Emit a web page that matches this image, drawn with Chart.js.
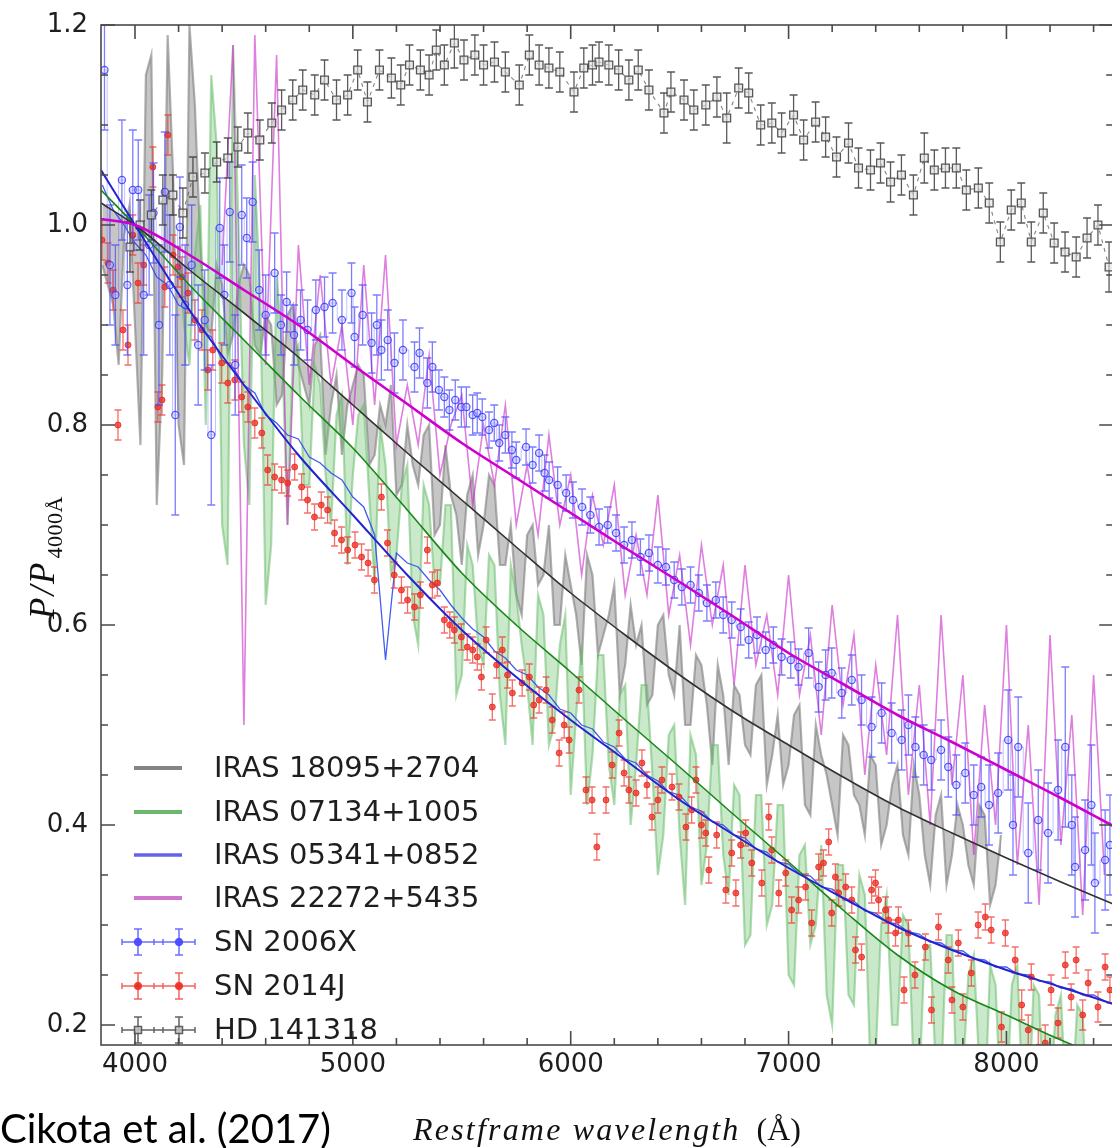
<!DOCTYPE html>
<html><head><meta charset="utf-8">
<script src="https://cdn.jsdelivr.net/npm/chart.js@4.4.1/dist/chart.umd.min.js"></script>
<style>html,body{margin:0;padding:0;background:#fff;overflow:hidden;}#wrap{width:1120px;height:1148px;}</style>
</head><body><div id="wrap"><canvas id="c" width="1120" height="1148"></canvas></div>
<script>
// ---------- tick labels ----------
const xMajorTicks = [4000, 5000, 6000, 7000, 8000];
const xMinorTicks = [4200, 4400, 4600, 4800, 5200, 5400, 5600, 5800, 6200, 6400, 6600, 6800, 7200, 7400, 7600, 7800, 8200, 8400];
const yMajorTicks = [0.2, 0.4, 0.6, 0.8, 1.0, 1.2];
const yMinorTicks = [0.25, 0.3, 0.35, 0.45, 0.5, 0.55, 0.65, 0.7, 0.75, 0.85, 0.9, 0.95, 1.05, 1.1, 1.15];

const legendLabels = ['IRAS 18095+2704', 'IRAS 07134+1005', 'IRAS 05341+0852', 'IRAS 22272+5435', 'SN 2006X', 'SN 2014J', 'HD 141318'];
const xTitleItalic = 'Restframe wavelength';
const xTitleUnit = '(\u00C5)';
const yTitleMain = 'P/P';
const yTitleSub = '4000\u00C5';
const creditText = 'Cikota et al. (2017)';

// ---------- spectra (wavelength grid) ----------
const specWave = [3850,3900,3950,4000,4050,4100,4150,4200,4250,4300,4350,4400,4450,4500,4550,4600,4650,4700,4750,4800,4850,4900,4950,5000,5050,5100,5150,5200,5250,5300,5350,5400,5450,5500,5550,5600,5650,5700,5750,5800,5850,5900,5950,6000,6050,6100,6150,6200,6250,6300,6350,6400,6450,6500,6550,6600,6650,6700,6750,6800,6850,6900,6950,7000,7050,7100,7150,7200,7250,7300,7350,7400,7450,7500,7550,7600,7650,7700,7750,7800,7850,7900,7950,8000,8050,8100,8150,8200,8250,8300,8350,8400,8450];

const graySpec = [.96,.92,.99,.90,1.15,.72,1.19,.80,1.20,
 .98,.89,.94,.89,.96,.88,.91,.82,.91,.86,
 .82,.89,.82,.77,.84,.85,.77,.80,.73,.80,
 .74,.80,.70,.73,.66,.75,.70,.74,.66,.63,
 .69,.64,.70,.60,.64,.56,.65,.59,.64,.56,
 .58,.52,.60,.55,.60,.50,.56,.46,.53,.54,
 .48,.54,.44,.51,.46,.52,.41,.47,.42,.49,
 .43,.39,.46,.40,.46,.37,.43,.34,.43,.37,
 .40,.34,.41,.34,
 null,null,null,null,null,null,null,null,null,null];

// in-between samples of the same gray spectrum
const grayOddWave = [3875,3925,3975,4025,4075,4125,4175,4225,4275,4325,4375,4425,4475,4525,4575,4625,4675,4725,4775,4825,4875,4925,4975,5025,5075,5125,5175,5225,5275,5325,5375,5425,5475,5525,5575,5625,5675,5725,5775,5825,5875,5925,5975,6025,6075,6125,6175,6225,6275,6325,6375,6425,6475,6525,6575,6625,6675,6725,6775,6825,6875,6925,6975,7025,7075,7125,7175,7225,7275,7325,7375,7425,7475,7525,7575,7625,7675,7725,7775,7825,7875,7925,7975];
const grayOddSpec = [.94,.86,1.02,.78,1.17,.85,1.05,.76,1.12,
 .90,.96,.87,.94,.95,.87,.90,.83,.92,.84,
 .88,.77,.85,.82,.86,.76,.82,.84,.74,.76,
 .79,.69,.78,.71,.73,.67,.75,.66,.70,.61,
 .70,.65,.60,.67,.61,.67,.57,.61,.53,.62,
 .60,.53,.61,.53,.50,.57,.52,.56,.46,.53,
 .47,.55,.47,.44,.51,.42,.50,.45,.39,.48,
 .42,.47,.38,.44,.39,.46,.37,.41,.34,.42,
 .36,.42,.32,.39];

const greenSpec = [null,null,null,null,null,null,null,
 .98,.86,1.02,1.15,.70,1.18,.78,1.05,.62,.95,
 .70,.88,.74,.84,.70,.83,.75,.82,.64,.76,
 .67,.76,.58,.72,.64,.72,.55,.66,.56,.66,
 .48,.63,.54,.63,.48,.58,.43,.58,.47,.57,
 .42,.54,.46,.54,.35,.49,.39,.49,.34,.48,
 .37,.44,.28,.43,.30,.42,.25,.37,.28,.38,
 .20,.36,.22,.33,.17,.33,.20,.30,.14,.28,
 .14,.29,.15,.27,.11,.24,.12,.26,.10,.23,
 .12,.23,.12,.21,null,null];

// in-between samples of the same green spectrum
const greenOddWave = [4225,4275,4325,4375,4425,4475,4525,4575,4625,4675,4725,4775,4825,4875,4925,4975,5025,5075,5125,5175,5225,5275,5325,5375,5425,5475,5525,5575,5625,5675,5725,5775,5825,5875,5925,5975,6025,6075,6125,6175,6225,6275,6325,6375,6425,6475,6525,6575,6625,6675,6725,6775,6825,6875,6925,6975,7025,7075,7125,7175,7225,7275,7325,7375,7425,7475,7525,7575,7625,7675,7725,7775,7825,7875,7925,7975,8025,8075,8125,8175,8225,8275,8325,8375];
const greenOddSpec = [.90,.97,.80,1.08,.66,1.0,.72,.93,.68,.88,
 .87,.74,.86,.75,.81,.66,.81,.73,.80,.65,
 .74,.61,.74,.64,.72,.53,.68,.58,.67,.53,
 .66,.58,.48,.61,.50,.61,.51,.42,.57,.46,
 .53,.40,.54,.45,.39,.50,.32,.47,.38,.48,
 .33,.43,.29,.43,.32,.42,.24,.38,.30,.23,
 .36,.23,.35,.16,.30,.20,.31,.15,.28,.16,
 .29,.11,.25,.16,.26,.11,.24,.12,.24,.08,
 .21,.11,.22,.09];

const magentaSpec = [null,null,null,null,null,null,null,null,null,null,null,
 .96,1.18,.50,1.19,.86,1.17,
 .70,.98,.84,.95,.84,.90,.80,.96,.82,.97,
 .78,.84,.78,.87,.75,.80,.83,.72,.80,.74,
 .82,.70,.76,.69,.79,.70,.75,.65,.73,.68,
 .74,.63,.69,.63,.73,.61,.67,.58,.68,.60,
 .66,.54,.66,.56,.61,.53,.65,.53,.59,.49,
 .62,.52,.59,.45,.56,.47,.61,.43,.54,.40,
 .61,.44,.55,.37,.52,.40,.60,.36,.50,.32,
 .59,.38,.51,.31,.55,.35];

const blueSpec = [1.04,1.015,1.00,.982,.97,.948,.94,.92,.915,.895,
 .888,.865,.858,.84,.832,.81,.802,.79,.786,.768,
 .762,.752,.745,.728,.718,.69,.565,.672,.662,.658,
 .645,.635,.62,.607,.596,.588,.574,.567,.555,.55,
 .538,.53,.516,.512,.50,.496,.483,.478,.466,.462,
 .45,.444,.433,.43,.418,.414,.403,.40,.39,.387,
 .376,.373,.363,.361,.351,.349,.338,.336,.327,.324,
 .314,.312,.303,.301,.293,.291,.283,.282,.275,.274,
 .266,.265,.258,.258,.251,.25,.244,.243,.237,.236,
 .23,.23,.224];

// ---------- fitted curves ----------
const fitWave = [3844,4000,4250,4500,4750,5000,5250,5500,5750,6000,6250,6500,6750,7000,7250,7500,7750,8000,8250,8490];
const grayFit    = [1.022,1.0,.955,.912,.868,.82,.772,.725,.678,.632,.59,.55,.513,.48,.448,.418,.392,.367,.343,.321];
const greenFit   = [1.035,1.0,.94,.885,.83,.777,.715,.652,.6,.553,.505,.458,.41,.363,.315,.27,.235,.21,.185,.164];
const blueFit    = [1.055,1.0,.915,.84,.77,.71,.65,.595,.548,.505,.465,.425,.39,.357,.327,.298,.275,.255,.238,.221];
const magentaFit = [1.006,1.0,.97,.935,.9,.86,.821,.782,.747,.712,.677,.643,.608,.572,.541,.51,.483,.455,.427,.399];

// ---------- SN 2006X ----------
const sn06Wave = [3860,3885,3910,3940,3965,3990,4015,4040,4065,4085,
 4110,4137,4160,4185,4206,4230,4260,4290,4320,4350,
 4389,4410,4435,4460,4490,4513,4540,4570,4600,4641,
 4670,4696,4730,4760,4792,4830,4870,4907,4950,4994,
 5008,5045,5086,5110,5131,5160,5191,5230,5283,5306,
 5342,5365,5395,5420,5443,5470,5498,5521,5550,5571,
 5594,5625,5649,5672,5700,5730,5750,5795,5825,5855,
 5880,5901,5940,5979,6010,6052,6090,6130,6170,6208,
 6245,6281,6320,6359,6400,6437,6475,6510,6550,6588,
 6625,6666,6700,6739,6780,6817,6855,6895,6930,6968,
 7010,7046,7092,7138,7170,7198,7244,7290,7335,7381,
 7427,7473,7519,7550,7582,7620,7655,7700,7733,7770,
 7811,7850,7884,7920,7962,8008,8030,8054,8100,8146,
 8191,8237,8270,8300,8315,8361,8390,8406,8453,8475];
const sn06Val = [1.155,.96,.93,1.045,.94,1.035,1.035,.93,.98,1.012,
 .90,1.033,.94,.81,.998,.92,.96,.88,.905,.79,
 .997,.93,1.013,.86,1.01,.987,1.023,.935,.91,.952,
 .90,.923,.89,.905,.895,.915,.918,.922,.905,.932,
 .888,.91,.882,.90,.875,.885,.862,.875,.858,.872,
 .842,.858,.835,.828,.815,.825,.818,.818,.81,.812,
 .808,.795,.802,.782,.79,.775,.765,.778,.76,.772,
 .752,.745,.74,.732,.725,.718,.71,.698,.70,.692,
 .68,.685,.668,.672,.66,.658,.645,.638,.64,.632,
 .622,.625,.61,.605,.598,.585,.59,.575,.58,.568,
 .565,.558,.572,.538,.55,.552,.532,.545,.525,.498,
 .512,.492,.485,.50,.478,.47,.465,.475,.458,.44,
 .452,.43,.438,.42,.432,.485,.40,.478,.372,.405,
 .392,.435,.478,.40,.358,.375,.42,.342,.365,.38];
const sn06Err = [.06,.06,.05,.06,.07,.06,.05,.06,.05,.05,
 .08,.06,.07,.10,.05,.06,.06,.06,.05,.07,
 .05,.05,.05,.05,.05,.04,.04,.04,.04,.04,
 .03,.03,.03,.03,.03,.03,.03,.03,.03,.03,
 .03,.03,.03,.03,.03,.03,.03,.03,.025,.025,
 .025,.025,.02,.02,.02,.02,.02,.02,.02,.02,
 .018,.018,.018,.018,.018,.018,.018,.018,.018,.018,
 .018,.018,.018,.018,.018,.018,.018,.018,.018,.018,
 .018,.018,.018,.018,.018,.018,.018,.018,.018,.018,
 .018,.018,.018,.018,.018,.018,.018,.018,.018,.018,
 .018,.018,.025,.025,.025,.025,.025,.025,.025,.03,
 .03,.03,.03,.03,.03,.03,.03,.03,.03,.03,
 .03,.03,.03,.04,.04,.05,.05,.05,.05,.05,
 .05,.05,.08,.05,.05,.05,.06,.05,.05,.05];

// ---------- SN 2014J ----------
const sn14Wave = [3849,3876,3900,3922,3945,3968,3990,4014,4040,4082,
 4105,4124,4137,4151,4175,4197,4215,4243,4275,4307,
 4334,4357,4398,4426,4458,4490,4518,4550,4582,4609,
 4641,4673,4701,4733,4765,4792,4824,4855,4884,4916,
 4948,4976,5010,5040,5070,5099,5131,5159,5190,5223,
 5251,5283,5310,5342,5365,5388,5420,5445,5466,5498,
 5525,5550,5571,5590,5612,5640,5660,5686,5710,5732,
 5777,5810,5830,5855,5887,5915,5947,5970,5993,6038,
 6070,6098,6120,6162,6190,6222,6245,6267,6300,6327,
 6350,6373,6400,6419,6465,6497,6529,6555,6575,6600,
 6620,6634,6670,6712,6739,6758,6780,6803,6831,6877,
 6909,6923,6955,6987,7014,7046,7078,7106,7138,7160,
 7184,7198,7215,7230,7262,7290,7307,7335,7381,7399,
 7413,7445,7459,7491,7504,7530,7550,7580,7628,7656,
 7688,7733,7750,7779,7800,7839,7870,7903,7930,7977,
 7995,8040,8070,8100,8114,8146,8178,8205,8237,8270,
 8297,8320,8350,8375,8420,8453,8475];
const sn14Val = [.985,.962,.935,.80,.895,.88,.99,.942,.96,1.058,
 .818,.825,.938,1.09,.97,.958,.948,.932,.905,.895,
 .855,.875,.862,.842,.845,.828,.818,.802,.792,.755,
 .748,.745,.742,.758,.738,.725,.708,.72,.715,.692,
 .685,.675,.68,.668,.662,.645,.728,.682,.65,.635,
 .625,.618,.63,.675,.64,.642,.605,.60,.595,.588,
 .578,.575,.568,.548,.585,.518,.56,.575,.55,.532,
 .542,.548,.52,.525,.535,.505,.472,.50,.485,.535,
 .435,.425,.378,.425,.46,.492,.452,.435,.432,.462,
 .44,.408,.425,.445,.438,.428,.398,.415,.445,.40,
 .392,.355,.39,.335,.372,.332,.38,.392,.362,.342,
 .408,.375,.332,.352,.315,.325,.338,.302,.358,.362,
 .383,.312,.348,.332,.338,.325,.275,.268,.335,.342,
 .325,.315,.305,.292,.305,.235,.292,.25,.278,.215,
 .298,.265,.225,.282,.218,.252,.30,.308,.295,.198,
 .292,.265,.22,.195,.248,.178,.182,.235,.202,.26,
 .228,.265,.21,.242,.218,.258,.235];
const sn14Err = [.02,.02,.02,.015,.02,.02,.02,.02,.02,.02,
 .015,.015,.02,.02,.02,.02,.02,.02,.02,.02,
 .02,.02,.02,.02,.02,.015,.015,.015,.015,.015,
 .013,.013,.013,.013,.013,.013,.013,.013,.013,.013,
 .013,.013,.013,.013,.013,.013,.013,.013,.013,.013,
 .013,.013,.013,.013,.013,.013,.013,.013,.013,.013,
 .013,.013,.013,.013,.013,.013,.013,.013,.013,.013,
 .013,.013,.013,.013,.013,.013,.013,.013,.013,.013,
 .013,.013,.013,.013,.013,.013,.013,.013,.013,.013,
 .013,.013,.013,.013,.013,.013,.013,.013,.013,.013,
 .013,.013,.013,.013,.013,.013,.013,.013,.013,.013,
 .013,.013,.013,.013,.013,.013,.013,.013,.013,.013,
 .013,.013,.013,.013,.013,.013,.013,.013,.013,.013,
 .013,.013,.013,.013,.013,.013,.013,.013,.013,.013,
 .013,.013,.013,.013,.013,.013,.013,.013,.013,.015,
 .013,.013,.015,.015,.013,.018,.018,.015,.015,.013,
 .013,.013,.015,.013,.015,.013,.013];

// ---------- HD 141318 ----------
const hdWave = [3977,4023,4075,4128,4174,4220,4266,4321,4375,4426,
 4472,4518,4573,4628,4673,4724,4770,4825,4870,4925,
 4976,5022,5067,5122,5177,5220,5260,5310,5350,5383,
 5420,5466,5510,5560,5600,5650,5700,5764,5810,5855,
 5900,5950,6015,6060,6100,6130,6175,6220,6267,6310,
 6359,6428,6460,6520,6565,6620,6671,6716,6771,6817,
 6872,6923,6968,7023,7069,7124,7170,7220,7275,7321,
 7376,7422,7468,7518,7573,7623,7669,7720,7770,7816,
 7871,7921,7972,8022,8068,8114,8169,8219,8269,8320,
 8370,8420,8471];
const hdVal = [.978,1.0,1.01,1.025,1.03,1.012,1.048,1.052,1.063,1.067,
 1.078,1.092,1.085,1.102,1.115,1.125,1.135,1.13,1.145,1.125,
 1.13,1.155,1.123,1.155,1.147,1.14,1.16,1.155,1.15,1.175,
 1.16,1.182,1.165,1.17,1.16,1.163,1.153,1.14,1.17,1.16,
 1.157,1.153,1.133,1.157,1.16,1.163,1.16,1.155,1.145,1.155,
 1.135,1.112,1.133,1.125,1.115,1.12,1.128,1.107,1.137,1.132,
 1.10,1.102,1.092,1.11,1.085,1.103,1.088,1.068,1.082,1.057,
 1.055,1.062,1.043,1.05,1.03,1.067,1.055,1.057,1.057,1.035,
 1.037,1.022,.983,1.015,1.022,.983,1.012,.982,.973,.968,
 .987,1.0,.958];
const hdErr = [.025,.025,.025,.025,.02,.025,.02,.02,.02,.02,
 .02,.02,.02,.02,.02,.02,.02,.02,.02,.02,
 .02,.02,.02,.02,.02,.02,.02,.02,.02,.02,
 .02,.025,.02,.02,.02,.02,.02,.02,.02,.02,
 .02,.02,.02,.02,.02,.02,.02,.02,.02,.02,
 .02,.02,.02,.02,.02,.02,.02,.025,.02,.02,
 .02,.02,.02,.02,.02,.02,.02,.02,.02,.02,
 .02,.02,.02,.02,.02,.025,.02,.02,.02,.02,
 .02,.02,.02,.02,.02,.02,.02,.02,.02,.02,
 .02,.02,.025];

// ---------- helpers ----------
const toXY = (xs, ys) => xs.map((x, i) => ({ x: x, y: ys[i] }));
const mergeXY = (xa, ya, xb, yb) => toXY(xa, ya).concat(toXY(xb, yb))
  .filter(p => p.y !== null).sort((p, q) => p.x - q.x);

const errorBarPlugin = {
  id: 'errbars',
  beforeDatasetDraw(chart, args) {
    const ds = chart.data.datasets[args.index];
    if (!ds.errors) return;
    const ctx = chart.ctx, a = chart.chartArea, xs = chart.scales.x, ys = chart.scales.y;
    ctx.save();
    ctx.beginPath(); ctx.rect(a.left, a.top, a.right - a.left, a.bottom - a.top); ctx.clip();
    ctx.strokeStyle = ds.errColor; ctx.lineWidth = ds.errWidth;
    ctx.beginPath();
    ds.data.forEach((p, i) => {
      const e = ds.errors[i];
      const px = xs.getPixelForValue(p.x);
      const y1 = ys.getPixelForValue(p.y - e), y2 = ys.getPixelForValue(p.y + e);
      const c = ds.capHalf;
      ctx.moveTo(px, y1); ctx.lineTo(px, y2);
      ctx.moveTo(px - c, y1); ctx.lineTo(px + c, y1);
      ctx.moveTo(px - c, y2); ctx.lineTo(px + c, y2);
    });
    ctx.stroke();
    ctx.restore();
  }
};

const framePlugin = {
  id: 'frame',
  afterDatasetsDraw(chart) {
    const ctx = chart.ctx, a = chart.chartArea, xs = chart.scales.x, ys = chart.scales.y;
    ctx.save();
    ctx.strokeStyle = '#4a4a4a'; ctx.lineWidth = 1.6;
    ctx.strokeRect(a.left, a.top, a.right - a.left, a.bottom - a.top);
    ctx.beginPath();
    const vt = (v, len) => { const px = xs.getPixelForValue(v);
      ctx.moveTo(px, a.bottom); ctx.lineTo(px, a.bottom - len);
      ctx.moveTo(px, a.top); ctx.lineTo(px, a.top + len); };
    const ht = (v, len) => { const py = ys.getPixelForValue(v);
      ctx.moveTo(a.left, py); ctx.lineTo(a.left + len, py);
      ctx.moveTo(a.right, py); ctx.lineTo(a.right - len, py); };
    xMajorTicks.forEach(v => vt(v, 14));
    xMinorTicks.forEach(v => vt(v, 7));
    yMajorTicks.forEach(v => ht(v, 14));
    yMinorTicks.forEach(v => ht(v, 7));
    ctx.stroke();
    ctx.restore();
  }
};

const legendStyles = [
  { kind: 'line', color: 'rgba(110,110,110,0.85)', width: 4 },
  { kind: 'line', color: 'rgba(70,165,70,0.8)', width: 4 },
  { kind: 'line', color: 'rgba(70,70,230,0.85)', width: 3.5 },
  { kind: 'line', color: 'rgba(195,85,195,0.8)', width: 4 },
  { kind: 'err', color: 'rgba(70,70,255,0.8)', fill: 'rgba(70,70,255,0.9)', shape: 'circle' },
  { kind: 'err', color: 'rgba(240,60,50,0.8)', fill: 'rgba(235,40,30,0.9)', shape: 'circle' },
  { kind: 'err', color: 'rgba(70,70,70,0.85)', fill: 'rgba(200,200,200,0.8)', shape: 'rect' }
];
const legendRowY = [768, 812, 855, 898, 942, 986, 1030];

const legendPlugin = {
  id: 'legendBox',
  afterDraw(chart) {
    const ctx = chart.ctx;
    ctx.save();
    legendLabels.forEach((lab, i) => {
      const yy = legendRowY[i], st = legendStyles[i];
      if (st.kind === 'line') {
        ctx.strokeStyle = st.color; ctx.lineWidth = st.width;
        ctx.beginPath(); ctx.moveTo(134, yy); ctx.lineTo(182, yy); ctx.stroke();
      } else {
        ctx.strokeStyle = st.color; ctx.lineWidth = 1.5;
        ctx.beginPath();
        [138, 179].forEach(mx => {
          ctx.moveTo(mx - 16, yy); ctx.lineTo(mx + 16, yy);
          ctx.moveTo(mx - 16, yy - 3); ctx.lineTo(mx - 16, yy + 3);
          ctx.moveTo(mx + 16, yy - 3); ctx.lineTo(mx + 16, yy + 3);
          ctx.moveTo(mx, yy - 13); ctx.lineTo(mx, yy + 13);
          ctx.moveTo(mx - 4, yy - 13); ctx.lineTo(mx + 4, yy - 13);
          ctx.moveTo(mx - 4, yy + 13); ctx.lineTo(mx + 4, yy + 13);
        });
        ctx.moveTo(154, yy); ctx.lineTo(163, yy);
        ctx.stroke();
        [138, 179].forEach(mx => {
          ctx.beginPath();
          if (st.shape === 'rect') ctx.rect(mx - 3.5, yy - 3.5, 7, 7); else ctx.arc(mx, yy, 3.5, 0, Math.PI * 2);
          ctx.fillStyle = st.fill; ctx.fill(); ctx.stroke();
        });
      }
      ctx.fillStyle = '#1e1e1e'; ctx.font = '29px "DejaVu Sans"';
      ctx.textBaseline = 'middle'; ctx.textAlign = 'left';
      ctx.fillText(lab, 214, yy + 1);
    });
    ctx.restore();
  }
};

const textPlugin = {
  id: 'texts',
  afterDraw(chart) {
    const ctx = chart.ctx;
    ctx.save();
    ctx.fillStyle = '#000'; ctx.textAlign = 'left'; ctx.textBaseline = 'alphabetic';
    ctx.font = '40px Lato';
    ctx.fillText(creditText, 0, 1143);
    ctx.fillStyle = '#111';
    ctx.font = 'italic 32px "Liberation Serif"';
    if ('letterSpacing' in ctx) ctx.letterSpacing = '2.2px';
    ctx.fillText(xTitleItalic, 413, 1140);
    const w = ctx.measureText(xTitleItalic).width;
    if ('letterSpacing' in ctx) ctx.letterSpacing = '0px';
    ctx.font = '32px "Liberation Serif"';
    ctx.fillText(xTitleUnit, 413 + w + 16, 1140);
    // y title
    ctx.translate(54, 545);
    ctx.rotate(-Math.PI / 2);
    ctx.font = 'italic 35px "Liberation Serif"';
    if ('letterSpacing' in ctx) ctx.letterSpacing = '2px';
    ctx.fillText(yTitleMain, -74, 0);
    const w1 = ctx.measureText(yTitleMain).width;
    ctx.font = '22px "Liberation Serif"';
    if ('letterSpacing' in ctx) ctx.letterSpacing = '0.5px';
    ctx.fillText(yTitleSub, -74 + w1 + 2, 8);
    ctx.restore();
  }
};

function makeChart() {
  const ctx = document.getElementById('c').getContext('2d');
  const lineDS = (data, color, width, order, extra) => Object.assign({
    data: data, borderColor: color, borderWidth: width, pointRadius: 0, pointHoverRadius: 0,
    fill: false, showLine: true, order: order, spanGaps: false
  }, extra || {});
  new Chart(ctx, {
    type: 'line',
    data: {
      datasets: [
        lineDS(toXY(fitWave, magentaFit), 'rgb(205,0,205)', 2.6, 0, { cubicInterpolationMode: 'monotone' }),
        lineDS(toXY(fitWave, blueFit), 'rgb(35,35,210)', 2.0, 1, { cubicInterpolationMode: 'monotone' }),
        lineDS(toXY(fitWave, grayFit), 'rgb(50,50,50)', 1.6, 2, { cubicInterpolationMode: 'monotone' }),
        lineDS(toXY(fitWave, greenFit), 'rgb(25,135,25)', 1.6, 3, { cubicInterpolationMode: 'monotone' }),
        {
          data: toXY(hdWave, hdVal), errors: hdErr, errColor: 'rgba(60,60,60,0.85)', errWidth: 1.3, capHalf: 4,
          showLine: true, borderColor: 'rgba(80,80,80,0.7)', borderWidth: 1.1, borderDash: [4, 5],
          pointStyle: 'rect', pointRadius: 5.5, pointBorderColor: 'rgba(70,70,70,0.9)', pointBorderWidth: 1.3,
          pointBackgroundColor: 'rgba(225,225,225,0.6)', pointHoverRadius: 0, order: 4
        },
        {
          data: toXY(sn06Wave, sn06Val), errors: sn06Err, errColor: 'rgba(70,70,255,0.7)', errWidth: 1.3, capHalf: 4,
          showLine: true, stepped: 'middle', borderColor: 'rgba(80,80,255,0.35)', borderWidth: 1,
          pointStyle: 'circle', pointRadius: 3.6, pointBorderColor: 'rgba(60,60,255,0.85)', pointBorderWidth: 1.2,
          pointBackgroundColor: 'rgba(190,190,255,0.35)', pointHoverRadius: 0, order: 5
        },
        {
          data: toXY(sn14Wave, sn14Val), errors: sn14Err, errColor: 'rgba(240,50,40,0.7)', errWidth: 1.3, capHalf: 3.5,
          showLine: false,
          pointStyle: 'circle', pointRadius: 3, pointBorderColor: 'rgba(235,45,35,0.85)', pointBorderWidth: 1,
          pointBackgroundColor: 'rgba(235,45,35,0.75)', pointHoverRadius: 0, order: 6
        },
        lineDS(toXY(specWave, magentaSpec), 'rgba(200,40,200,0.6)', 1.6, 7),
        lineDS(toXY(specWave, blueSpec), 'rgba(45,75,240,0.9)', 1.3, 8),
        lineDS(mergeXY(specWave, greenSpec, greenOddWave, greenOddSpec), 'rgba(95,185,100,0.5)', 2.2, 9,
          { fill: { target: 3 }, backgroundColor: 'rgba(115,195,115,0.38)' }),
        lineDS(mergeXY(specWave, graySpec, grayOddWave, grayOddSpec), 'rgba(125,125,125,0.6)', 2.2, 10,
          { fill: { target: 2 }, backgroundColor: 'rgba(135,135,135,0.48)' })
      ]
    },
    options: {
      responsive: false, animation: false, devicePixelRatio: 1,
      layout: { padding: { left: 0, top: 25, right: 5, bottom: 0 } },
      plugins: { legend: { display: false }, tooltip: { enabled: false }, filler: { propagate: false } },
      events: [],
      scales: {
        x: {
          type: 'linear', min: 3844, max: 8490,
          afterBuildTicks: s => { s.ticks = xMajorTicks.map(v => ({ value: v })); },
          afterFit: s => { s.height = 103; },
          grid: { display: false }, border: { display: false },
          ticks: { font: { family: 'DejaVu Sans', size: 26 }, color: '#1e1e1e', padding: -3, maxRotation: 0, autoSkip: false,
            callback: v => String(v) }
        },
        y: {
          type: 'linear', min: 0.18, max: 1.2,
          afterBuildTicks: s => { s.ticks = yMajorTicks.map(v => ({ value: v })); },
          afterFit: s => { s.width = 101; },
          grid: { display: false }, border: { display: false },
          ticks: { font: { family: 'DejaVu Sans', size: 26 }, color: '#1e1e1e', padding: 5, autoSkip: false,
            callback: v => Number(v).toFixed(1) }
        }
      }
    },
    plugins: [errorBarPlugin, framePlugin, legendPlugin, textPlugin]
  });
}

const fontLoads = ['40px Lato', 'italic 32px "Liberation Serif"', '32px "Liberation Serif"', '29px "DejaVu Sans"', '26px "DejaVu Sans"']
  .map(f => document.fonts.load(f).catch(() => null));
Promise.all(fontLoads).then(makeChart, makeChart);
</script></body></html>
